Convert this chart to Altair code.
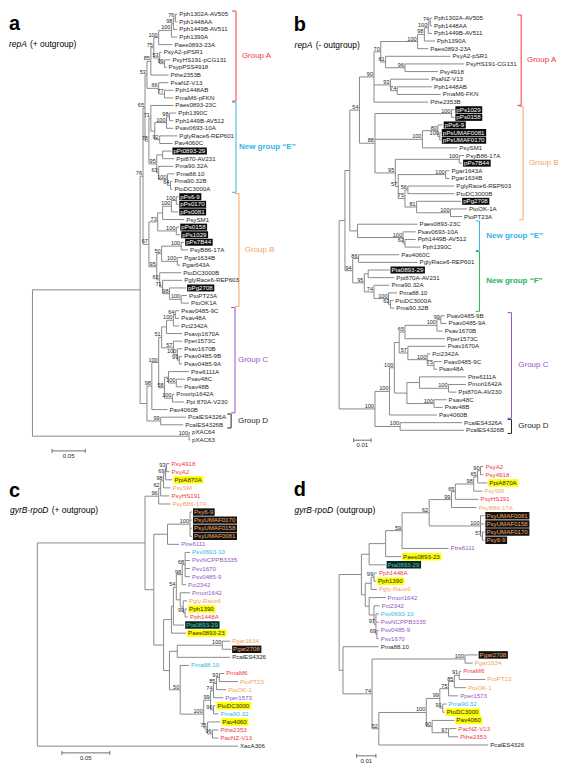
import altair as alt
import pandas as pd

# ---------------------------------------------------------------- styles
FONT = "Liberation Sans"
BRANCH = "#8a8a8a"
INK = "#262626"
RED = "#f2363c"
ORANGE = "#f5a15a"
PURPLE = "#9356c2"
BLUE = "#35b2e8"
GREEN = "#27b45a"
YELLOW = "#ffff00"
LEAF_SIZE = 6.2
BOOT_SIZE = 5.6
TITLE_SIZE = 8.5

# ---------------------------------------------------------------- data
# Trees are Newick-like strings: "name:depth" for a tip, "(...)bootstrap:depth" for a node.
# depth = node depth along the distance axis, in 1/PPU substitutions per site.

# ---- panel a : repA (+ outgroup), PPU 680
A_GROUP_A = ("(((((((Pph1302A-AV505:176,Pph1448AA:176)76:174,Pph1449B-AV511:176)98:172,Pph1390A:176)100:170,"
             "Paes0893-23A:171)100:157,(PsyA2-pPSR1:160,(PsyHS191-pCG131:169,PsypPSS4918:165)99:163)53:158)75:152,"
             "Pthe2353B:167)85:149,(PsaNZ-V13:167,(Pph1448AB:172,PmaM6-pFKN:172)77:163)66:157)53:145")
A_GROUP_E = ("((Paes0893-23C:172,(((Pph1390C:175,Pph1449B-AV512:172)98:168,Psav0693-10A:172)100:165,"
             "(PglyRace6-REP601:176,Pav4060C:171)92:158):153)71:149,((pPt0893-29:170,Ppi870-AV231:173):161,"
             "(Pma90.32A:172,(Pma88.10:173,(Pma90.32B:171,PtoDC3000A:171)64:169)100:166)63:157)95:155)78:147")
A_GROUP_B = ("(((((pPs6-9:177,pPs0170:177)100:175,pPs0081:177)100:170,PsySM1:183):161,(pPs0158:178,pPs1029:179)100:175)73:156,"
             "(((pPs7B44:183,PsyB86-17A:187)100:180,(Pgar1634B:181,Pgar643A:179)100:176)50:160,"
             "(PtoDC3000B:180,(PglyRace6-REP603:181,(pPg2708:185,(PtoPT23A:186,PtoOK1A:188)100:180)98:168)71:161)63:158)95:155)67:147")
A_GROUP_C = ("((((((Psav0485-9C:178,Psav48A:178)64:174,Pci2342A:178)100:172,Psavp1670A:181):165,"
             "(Pper1573C:181,(Psav1670B:181,(Psav0485-9B:181,Psav0485-9A:181)99:178)100:176)57:172)51:160,"
             "((Ptre6111A:188,(Psav48C:184,Psav48B:181)100:175):167,(Pmorip1642A:173,Ppi 870A-V230:183)100:171)58:163)100:157,"
             "Pav4060B:166)98:150")
A_GROUP_D = "(PcalES4326A:185,PcalES4326B:182)99:159"
A_OUTGROUP = "(pXAC64:189,pXAC63:189)100:188"
A_TREE = f"(((({A_GROUP_A},{A_GROUP_E})65:143,{A_GROUP_B})76:141,({A_GROUP_C},{A_GROUP_D}):145):138,{A_OUTGROUP}):28"
A_HIGHLIGHT = ["pPt0893-29", "pPs6-9", "pPs0170", "pPs0081", "pPs0158", "pPs1029", "pPs7B44", "pPg2708"]
A_GROUPS = [("Group A", "Pph1302A-AV505", "PmaM6-pFKN", RED, False),
            ("New group \u201cE\u201d", "Paes0893-23C", "PtoDC3000A", BLUE, True),
            ("Group B", "pPs6-9", "PtoOK1A", ORANGE, False),
            ("Group C", "Psav0485-9C", "Pav4060B", PURPLE, False),
            ("Group D", "PcalES4326A", "PcalES4326B", INK, False)]

# ---- panel b : repA (- outgroup), PPU 1800
B_GROUP_A = ("((((((Pph1302A-AV505:438,Pph1448AA:438)74:436,Pph1449B-AV511:438)100:434,Pph1390A:441)98:430,"
             "Paes0893-23A:434)100:423,(PsyA2-pSR1:457,(PsyHS191-CG131:471,Psy4918:444)96:410)61:390)70:385,"
             "(PsaNZ-V13:435,(Pph1448AB:438,PmaM6-FKN:447)74:402)93:395,Pthe2353B:434)90:378")
B_GROUP_B = ("((pPs1029:461,pPs0158:461)100:458,((pPs6-9:449,(pPsUMAF0081:447,pPsUMAF0170:447)100:446)80:444,PsySM1:464)100:428,"
             "((PsyB86-17A:471,pPs7B44:469)100:466,((Pgar1643A:456,Pgar1634B:456)100:452,"
             "((PglyRace6-REP603:461,PtoDC3000B:461)56:413,(pPg2708:468,(PtoOK-1A:474,PtoPT23A:469)100:457)81:422)75:410)57:403)95:400)88:379")
B_GROUP_E = "(Paes0893-23C:423,(Psav0693-10A:421,(Pph1449B-AV512:421,Pph1390C:426)62:410)100:408):361"
B_GROUP_F = ("((Pav4060C:404,PglyRace6-REP601:423)86:362,((Pta0893-29:394,Ppi870A-AV231:399):372,"
             "(Pma90.32A:394,(Pma88.10:402,(PtoDC3000A:398,Pma90.32B:399)62:395)100:393)74:378)95:368)94:356")
B_GROUP_C = ("((((((Psav0485-9B:451,Psav0485-9A:453)99:447,Psav1670B:449)100:443,Pper1573C:451)65:410,"
             "(Psav1670A:452,(Pci2342A:436,(Psav0485-9C:448,Psav48A:443)75:440)100:433)57:413):404,"
             "((Ptre6111A:473,(Pmori1642A:473,Ppi870A-AV230:463)100:455):425,(Psav48C:453,Psav48B:449)100:440):412)100:399,"
             "Pav4060B:443)100:394")
B_GROUP_D = "(PcalES4326A:469,PcalES4326B:471)100:405"
B_TREE = f"(((({B_GROUP_A},{B_GROUP_B})54:363,{B_GROUP_E}):353,{B_GROUP_F}):348,({B_GROUP_C},{B_GROUP_D})100:379):342"
B_HIGHLIGHT = ["pPs1029", "pPs0158", "pPs6-9", "pPsUMAF0081", "pPsUMAF0170", "pPs7B44", "pPg2708", "Pta0893-29"]
B_GROUPS = [("Group A", "Pph1302A-AV505", "Pthe2353B", RED, False),
            ("Group B", "pPs1029", "PtoPT23A", ORANGE, False),
            ("New group \u201cE\u201d", "Paes0893-23C", "Pph1390C", BLUE, True),
            ("New group \u201cF\u201d", "Pav4060C", "Pma90.32B", GREEN, True),
            ("Group C", "Psav0485-9B", "Pav4060B", PURPLE, False),
            ("Group D", "PcalES4326A", "PcalES4326B", INK, False)]

# ---- panel c : gyrB-rpoD (+ outgroup), PPU 980
C_PSY = ("(((((Psy4918:168,PsyA2:168)93:165,PpiA870A:171)69:164,PsySM:169)98:162,PsyHS191:168)62:159,"
         "PsyB86-17A:169)96:157")
C_UMAF = "((Psy6-9:191,PsyUMAF0170:191,PsyUMAF0158:191,PsyUMAF0081:191)100:189,Ptre6111:178):166"
C_PSV = ("(((((Psv0693-10:189,PsvNCPPB3335:189,Psv1670:189,Psv0485-9:189)68:184,Pci2342:185)98:181,"
         "(Pmori1642:189,(Pgly-Race6:186,(Pph1390:186,Pph1448A:187)99:184):182):179)54:175,Pta0893-29:183):172,"
         "Paes0893-23:185):170")
C_LOWER = ("(((Pgar1634:230,Pgar2708:231)100:222,PcalES4326:230):176,(Pma88.10:188,"
           "(((((PmaM6:224,PtoPT23:238)93:219,PtoOK-1:226)85:216,Pper1573:223)74:213,(PtoDC3000:215,Pma90.32:218)96:213)99:210,"
           "(Pav4060:220,(Pthe2353:218,PacNZ-V13:218)96:212)75:207)100:203)50:179):168")
C_TREE = f"(({C_PSY},({C_UMAF},({C_PSV},{C_LOWER}):162):152):143,XacA306:238):33"

# ---- panel d : gyrB-rpoD (outgroup), PPU 2000
D_PSY = ("(((((PsyA2:491,Psy4918:491)90:488,PpiA870A:495)65:485,PsySM:490)98:481,PsyHS191:486)65:462,"
         "PsyB86-17A:484)99:458")
D_UMAF = "(PsyUMAF0081:492,PsyUMAF0158:492,(PsyUMAF0170:492,Psy6-9:492)57:490)100:488"
D_PPH = ("(((Pph1448A:381,Pph1390:380)99:378,Pgly-Race6:381):375,(Pmori1642:390,(Pci2342:384,"
         "(Psv0693-10:383,PsvNCPPB3335:383,(Psv0485-9:383,Psv1670:383)69:381)97:380):378):373):369")
D_LOWER = ("((Pgar2708:485,Pgar1634:480)100:472,((((((PmaM6:468,PtoPT23:493)91:466,PtoOK-1:473)85:461,Pper1573:465)75:455,"
           "(Pma90.32:453,PtoDC3000:451)91:449)99:446,(Pav4060:461,(PacNZ-V13:463,Pthe2353:465)97:455)90:438)100:432,"
           "PcalES4326:496)52:383)74:376")
D_TREE = (f"(((((({D_PSY},{D_UMAF})62:435,Ptre6111:455)59:407,Paes0893-23:406):390,Pta0893-29:390):373,"
          f"{D_PPH}):365,(Pma88.10:383,{D_LOWER}):346):342")

# label colours / highlights for the gyrB-rpoD trees
CD_RED = ["Psy4918", "PsyA2", "PsyHS191", "Pph1448A", "PmaM6", "Pthe2353", "PacNZ-V13"]
CD_ORANGE = ["PsySM", "PsyB86-17A", "Pgly-Race6", "Pgar1634", "PtoPT23", "PtoOK-1"]
CD_PURPLE = ["Ptre6111", "PsvNCPPB3335", "Psv1670", "Psv0485-9", "Pci2342", "Pmori1642", "Pper1573"]
C_BLUE = ["Psv0693-10", "Pma88.10", "Pma90.32"]
D_BLUE = ["Psv0693-10", "Pma90.32"]
CD_YELLOW = ["PpiA870A", "Pph1390", "Paes0893-23", "PtoDC3000", "Pav4060"]
CD_DARK = ["Psy6-9", "PsyUMAF0170", "PsyUMAF0158", "PsyUMAF0081", "Pgar2708"]
CD_TEAL = ["Pta0893-29"]

# ---------------------------------------------------------------- helpers
_W = {c: 0.556 for c in "0123456789abdeghnopqu"}
_W.update({c: 0.5 for c in "cksvxyz"})
_W.update({"f": 0.278, "t": 0.278, "i": 0.222, "j": 0.222, "l": 0.222, "m": 0.833, "r": 0.333, "w": 0.722})
_W.update({c: 0.667 for c in "ABEKPSVXY"})
_W.update({c: 0.722 for c in "CDHNRU"})
_W.update({"F": 0.611, "T": 0.611, "Z": 0.611, "G": 0.778, "O": 0.778, "Q": 0.778, "M": 0.833,
           "I": 0.278, "J": 0.5, "L": 0.556, "W": 0.944})
_W.update({"-": 0.333, ".": 0.278, " ": 0.278, "(": 0.333, ")": 0.333, "+": 0.584,
           "\u201c": 0.333, "\u201d": 0.333})


def text_width(s, size):
    return sum(_W.get(ch, 0.556) for ch in s) * size


def parse_tree(s):
    pos = 0

    def token():
        nonlocal pos
        start = pos
        while pos < len(s) and s[pos] not in "(),:":
            pos += 1
        return s[start:pos]

    def number():
        nonlocal pos
        start = pos
        while pos < len(s) and s[pos] not in "(),":
            pos += 1
        return float(s[start:pos])

    def node():
        nonlocal pos
        if s[pos] == "(":
            pos += 1
            kids = [node()]
            while s[pos] == ",":
                pos += 1
                kids.append(node())
            assert s[pos] == ")", s[pos:pos + 20]
            pos += 1
            lab = token()
            assert s[pos] == ":"
            pos += 1
            return {"kids": kids, "boot": lab, "d": number()}
        name = token()
        assert s[pos] == ":", s[pos:pos + 20]
        pos += 1
        return {"name": name, "d": number()}

    t = node()
    assert pos == len(s)
    return t


def layout(t):
    leaves, nodes, segs = [], [], []

    def walk(n):
        if "kids" not in n:
            n["y"] = len(leaves)
            leaves.append(n)
            return
        for k in n["kids"]:
            walk(k)
        n["y"] = (n["kids"][0]["y"] + n["kids"][-1]["y"]) / 2
        nodes.append(n)
        segs.append((n["d"], n["d"], n["kids"][0]["y"], n["kids"][-1]["y"]))
        for k in n["kids"]:
            segs.append((n["d"], k["d"], k["y"], k["y"]))

    walk(t)
    return leaves, nodes, segs


def style_plasmid(hl):
    return lambda n: ("white", "#0b0b0b") if n in hl else (INK, None)


def style_gyrb(blue):
    def f(n):
        if n in CD_YELLOW:
            return (INK, YELLOW)
        if n in CD_DARK:
            return (ORANGE, "#141414")
        if n in CD_TEAL:
            return ("#37c9ad", "#0d2626")
        if n in CD_RED:
            return (RED, None)
        if n in CD_ORANGE:
            return (ORANGE, None)
        if n in CD_PURPLE:
            return (PURPLE, None)
        if n in blue:
            return (BLUE, None)
        return (INK, None)
    return f


def build_panel(p):
    leaves, nodes, segs = layout(parse_tree(p["tree"]))
    root, ppu, y0, sp = p["root"], p["ppu"], p["y0"], p["sp"]
    (rx0, rx1), (ry0, ry1), W, H = p["rx"], p["ry"], p["W"], p["H"]

    def X(r):
        return (r - root) / ppu

    def Yr(r):
        return (r - y0) / sp

    px_x = (rx1 - rx0) / (W * ppu)   # data units per screen pixel
    px_y = (ry1 - ry0) / (H * sp)
    xs = alt.Scale(domain=[X(rx0), X(rx1)], nice=False, zero=False)
    ys = alt.Scale(domain=[Yr(ry0), Yr(ry1)], nice=False, zero=False, reverse=True)
    ex = alt.X("x:Q", scale=xs, axis=None)
    ey = alt.Y("y:Q", scale=ys, axis=None)
    col = alt.Color("c:N", scale=None)

    rules = [dict(x=X(a), x2=X(b), y=u, y2=v, c=BRANCH) for a, b, u, v in segs]
    idx = {lf["name"]: lf["y"] for lf in leaves}

    g_norm, g_bold = [], []
    for (label, first, last, color, bold), bx, lx in zip(p["groups"], p["bx"], p["lx"]):
        top, bot = idx[first] - 0.42, idx[last] + 0.42
        rules.append(dict(x=X(bx), x2=X(bx), y=top, y2=bot, c=color))
        rules.append(dict(x=X(bx - 4), x2=X(bx), y=top, y2=top, c=color))
        rules.append(dict(x=X(bx - 4), x2=X(bx), y=bot, y2=bot, c=color))
        (g_bold if bold else g_norm).append(dict(x=X(lx), y=(top + bot) / 2, t=label, c=color))

    bxr, byr = p["bar_at"]
    b0, b1, by = X(bxr), X(bxr) + p["bar"], Yr(byr)
    tk = 2 * px_y
    rules += [dict(x=b0, x2=b1, y=by, y2=by, c="#6f6f6f"),
              dict(x=b0, x2=b0, y=by - tk, y2=by + tk, c="#6f6f6f"),
              dict(x=b1, x2=b1, y=by - tk, y2=by + tk, c="#6f6f6f")]
    bar_lab = pd.DataFrame([dict(x=(b0 + b1) / 2, y=by, t=f"{p['bar']:.2f}")])

    labs, rects = [], []
    for lf in leaves:
        tc, fill = p["style"](lf["name"])
        labs.append(dict(x=X(lf["d"]), y=lf["y"], t=lf["name"], c=tc))
        if fill:
            w = text_width(lf["name"], LEAF_SIZE)
            rects.append(dict(x=X(lf["d"]) + 1.0 * px_x, x2=X(lf["d"]) + (3.5 + w) * px_x,
                              y=lf["y"] - 0.46, y2=lf["y"] + 0.46, c=fill))
    boots = [dict(x=X(n["d"]), y=n["y"], t=n["boot"]) for n in nodes if n["boot"]]

    (lx_, ly_), (nx_, ny_) = p["letter_at"], p["note_at"]
    letter = pd.DataFrame([dict(x=X(lx_), y=Yr(ly_), t=p["letter"])])
    gene = pd.DataFrame([dict(x=X(nx_), y=Yr(ny_), t=p["gene"])])
    gap = text_width(p["gene"] + " ", TITLE_SIZE) + 0.8
    note = pd.DataFrame([dict(x=X(nx_) + gap * px_x, y=Yr(ny_), t=p["note"])])

    layers = []
    if rects:
        layers.append(alt.Chart(pd.DataFrame(rects)).mark_rect().encode(
            x=ex, x2="x2:Q", y=ey, y2="y2:Q", color=col))
    layers.append(alt.Chart(pd.DataFrame(rules)).mark_rule(strokeWidth=1).encode(
        x=ex, x2="x2:Q", y=ey, y2="y2:Q", color=col))
    layers.append(alt.Chart(pd.DataFrame(labs)).mark_text(
        align="left", baseline="middle", dx=2, font=FONT, fontSize=LEAF_SIZE).encode(
        x=ex, y=ey, text="t:N", color=col))
    layers.append(alt.Chart(pd.DataFrame(boots)).mark_text(
        align="right", baseline="alphabetic", dx=-1, dy=-1, font=FONT, fontSize=BOOT_SIZE, color=INK).encode(
        x=ex, y=ey, text="t:N"))
    if g_norm:
        layers.append(alt.Chart(pd.DataFrame(g_norm)).mark_text(
            align="left", baseline="middle", font=FONT, fontSize=8).encode(x=ex, y=ey, text="t:N", color=col))
    if g_bold:
        layers.append(alt.Chart(pd.DataFrame(g_bold)).mark_text(
            align="left", baseline="middle", font=FONT, fontSize=8, fontWeight="bold").encode(
            x=ex, y=ey, text="t:N", color=col))
    layers.append(alt.Chart(bar_lab).mark_text(
        align="center", baseline="top", dy=2, font=FONT, fontSize=6, color=INK).encode(x=ex, y=ey, text="t:N"))
    layers.append(alt.Chart(letter).mark_text(
        align="left", baseline="alphabetic", font=FONT, fontSize=20, fontWeight="bold", color="black").encode(
        x=ex, y=ey, text="t:N"))
    layers.append(alt.Chart(gene).mark_text(
        align="left", baseline="alphabetic", font=FONT, fontSize=TITLE_SIZE, fontStyle="italic", color="black").encode(
        x=ex, y=ey, text="t:N"))
    layers.append(alt.Chart(note).mark_text(
        align="left", baseline="alphabetic", font=FONT, fontSize=TITLE_SIZE, color="black").encode(
        x=ex, y=ey, text="t:N"))
    return alt.layer(*layers).properties(width=W, height=H)


PANELS = [
    dict(tree=A_TREE, root=28, ppu=680, rx=(3, 283), W=275, ry=(0, 460), H=450, y0=5, sp=7.8,
         style=style_plasmid(A_HIGHLIGHT), groups=A_GROUPS, bx=[236, 236, 239, 235, 231], lx=[242, 239, 245, 238, 238],
         bar=0.05, bar_at=(48, 453), letter="a", gene="repA", note="(+ outgroup)",
         letter_at=(4, 21), note_at=(4, 39)),
    dict(tree=B_TREE, root=342, ppu=1800, rx=(283, 567), W=276, ry=(0, 460), H=450, y0=9, sp=7.83,
         style=style_plasmid(B_HIGHLIGHT), groups=B_GROUPS, bx=[530, 532, 487, 487, 520, 520],
         lx=[536, 538, 494, 494, 527, 527],
         bar=0.01, bar_at=(357, 442), letter="b", gene="repA", note="(- outgroup)",
         letter_at=(295, 22), note_at=(296, 40)),
    dict(tree=C_TREE, root=33, ppu=980, rx=(3, 283), W=275, ry=(460, 771), H=305, y0=464, sp=8.26,
         style=style_gyrb(C_BLUE), groups=[], bx=[], lx=[],
         bar=0.05, bar_at=(58, 760), letter="c", gene="gyrB-rpoD", note="(+ outgroup)",
         letter_at=(4, 498), note_at=(5, 514)),
    dict(tree=D_TREE, root=342, ppu=2000, rx=(283, 567), W=276, ry=(460, 771), H=305, y0=467, sp=8.38,
         style=style_gyrb(D_BLUE), groups=[], bx=[], lx=[],
         bar=0.01, bar_at=(360, 763), letter="d", gene="gyrB-rpoD", note="(outgroup)",
         letter_at=(295, 497), note_at=(296, 515)),
]

pa, pb, pc, pd_ = [build_panel(p) for p in PANELS]
chart = alt.vconcat(
    alt.hconcat(pa, pb, spacing=0, bounds="flush"),
    alt.hconcat(pc, pd_, spacing=0, bounds="flush"),
    spacing=0,
).properties(padding=0).configure_view(stroke=None)

chart.save("out.html", embed_options={"renderer": "svg", "actions": False})
